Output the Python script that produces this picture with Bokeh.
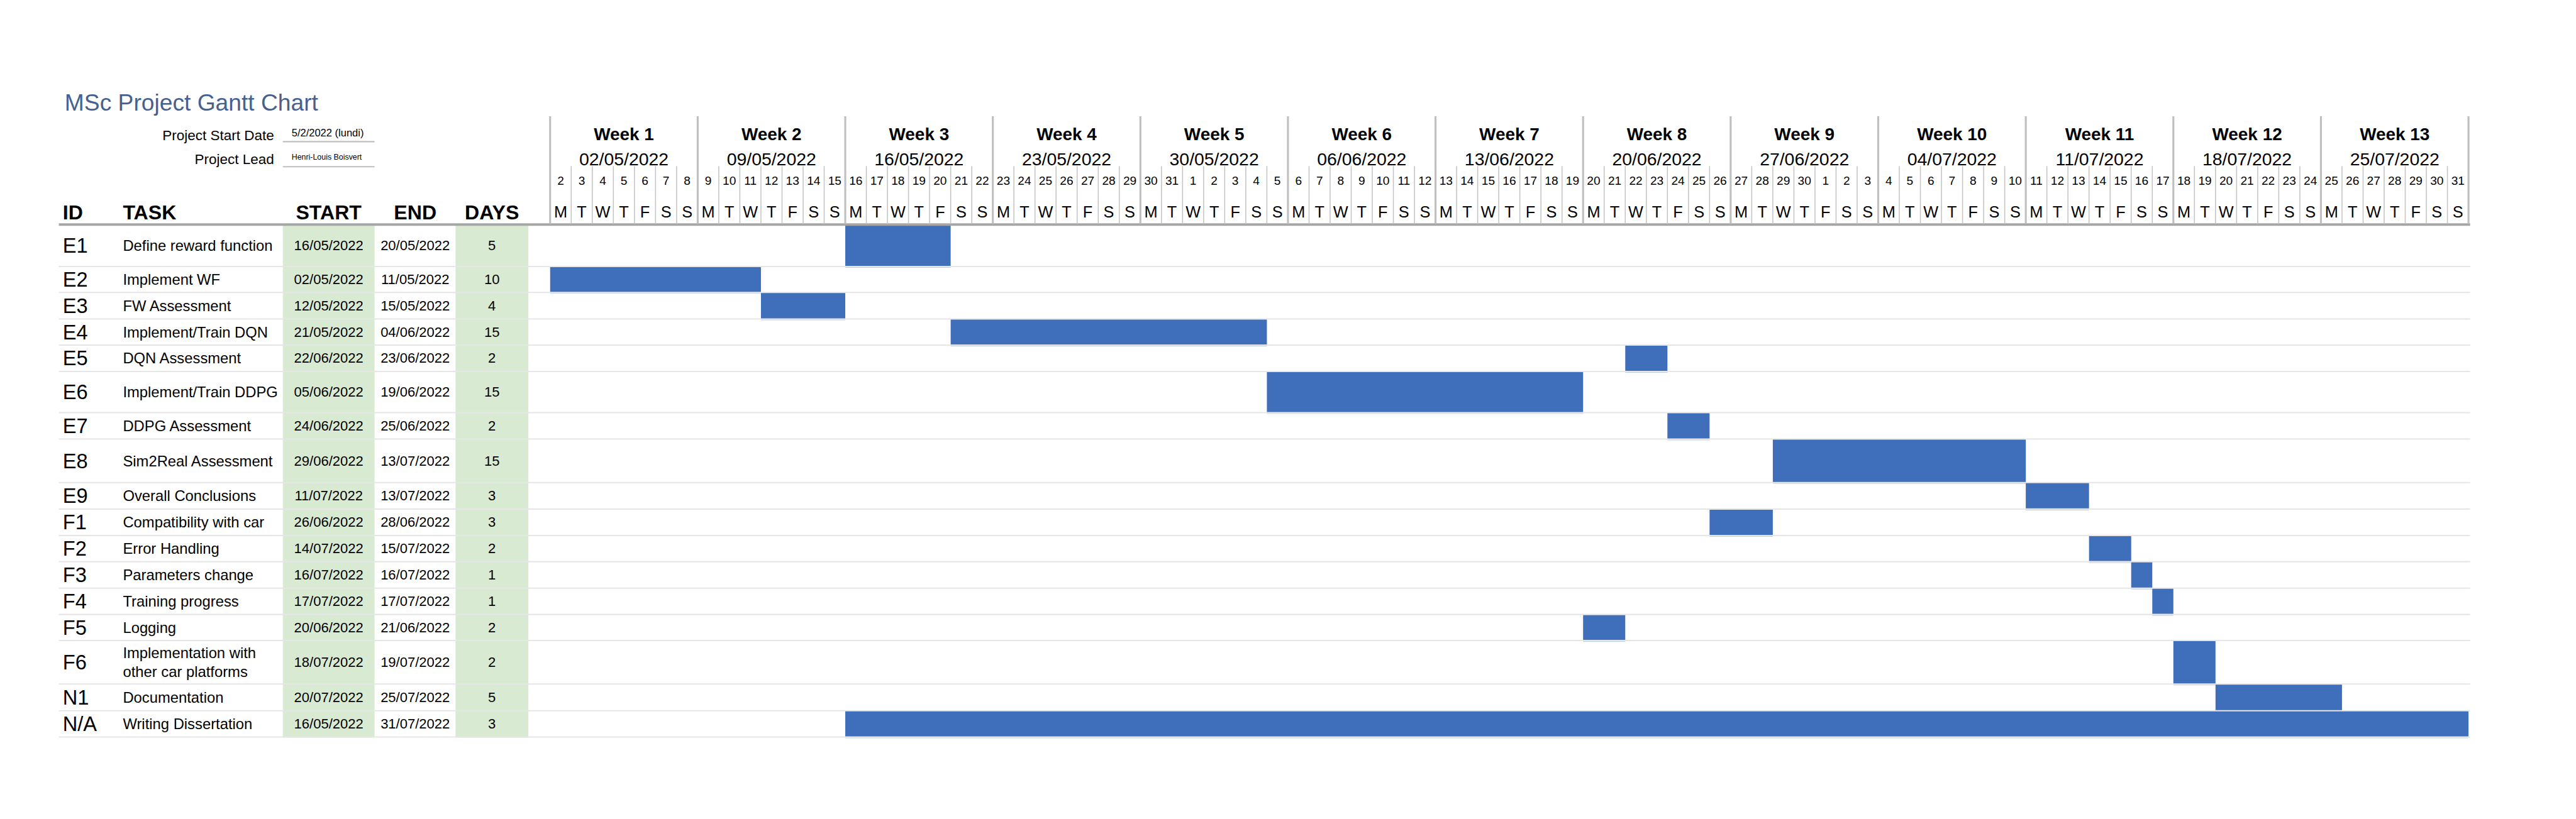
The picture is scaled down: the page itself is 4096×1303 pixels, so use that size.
import pandas as pd
from bokeh.plotting import figure
from bokeh.models import Range1d
from bokeh.core.properties import value
from bokeh.embed import file_html
from bokeh.resources import INLINE

# ---------------------------------------------------------------- data
TITLE = "MSc Project Gantt Chart"
START_DATE_LABEL = "Project Start Date"
START_DATE_VALUE = "5/2/2022 (lundi)"
LEAD_LABEL = "Project Lead"
LEAD_VALUE = "Henri-Louis Boisvert"
COLUMN_HEADERS = ["ID", "TASK", "START", "END", "DAYS"]

PROJECT_START = "02/05/2022"
PROJECT_END = "31/07/2022"

TASK_IDS = ["E1", "E2", "E3", "E4", "E5", "E6", "E7", "E8", "E9",
            "F1", "F2", "F3", "F4", "F5", "F6", "N1", "N/A"]
TASK_NAMES = ["Define reward function", "Implement WF", "FW Assessment",
              "Implement/Train DQN", "DQN Assessment", "Implement/Train DDPG",
              "DDPG Assessment", "Sim2Real Assessment", "Overall Conclusions",
              "Compatibility with car", "Error Handling", "Parameters change",
              "Training progress", "Logging",
              "Implementation with\nother car platforms",
              "Documentation", "Writing Dissertation"]
START_DATES = ["16/05/2022", "02/05/2022", "12/05/2022", "21/05/2022", "22/06/2022",
               "05/06/2022", "24/06/2022", "29/06/2022", "11/07/2022", "26/06/2022",
               "14/07/2022", "16/07/2022", "17/07/2022", "20/06/2022", "18/07/2022",
               "20/07/2022", "16/05/2022"]
END_DATES = ["20/05/2022", "11/05/2022", "15/05/2022", "04/06/2022", "23/06/2022",
             "19/06/2022", "25/06/2022", "13/07/2022", "13/07/2022", "28/06/2022",
             "15/07/2022", "16/07/2022", "17/07/2022", "21/06/2022", "19/07/2022",
             "25/07/2022", "31/07/2022"]
DURATION_DAYS = [5, 10, 4, 15, 2, 15, 2, 15, 3, 3, 2, 1, 1, 2, 2, 5, 3]
# last day covered by the drawn bar (E8's bar stops at 10/07 in the chart)
BAR_END_DATES = ["20/05/2022", "11/05/2022", "15/05/2022", "04/06/2022", "23/06/2022",
                 "19/06/2022", "25/06/2022", "10/07/2022", "13/07/2022", "28/06/2022",
                 "15/07/2022", "16/07/2022", "17/07/2022", "21/06/2022", "19/07/2022",
                 "25/07/2022", "31/07/2022"]

DAY0 = pd.to_datetime(PROJECT_START, dayfirst=True)
DAY_DATES = pd.date_range(DAY0, pd.to_datetime(PROJECT_END, dayfirst=True), freq="D")
DAY_NUMBERS = [str(d.day) for d in DAY_DATES]
DAY_LETTERS = ["MTWTFSS"[d.weekday()] for d in DAY_DATES]
WEEK_STARTS = list(DAY_DATES[::7])
WEEK_LABELS = [f"Week {i + 1}" for i in range(len(WEEK_STARTS))]
WEEK_DATE_LABELS = [d.strftime("%d/%m/%Y") for d in WEEK_STARTS]

# ---------------------------------------------------------------- layout / style
S = 0.517            # scale of the reference layout
OFF = 0              # offset of the figure inside the picture
W, H = 4080, 1287
DAY0_REF = 1691.0
DAYW_REF = (7591.0 - 1691.0) / len(DAY_DATES)
FONT = "Liberation Sans"
BAR_COLOR = "#3F6EBA"
TITLE_COLOR = "#46618F"
GREEN = "#D9EAD3"
ROW_TOP_REF = 690.0
ROW_H_REF = [129, 80, 81.5, 80.5, 81, 127, 81, 134, 81.5, 81.5, 80.5, 81.5, 81, 80, 134, 82, 81]


def dx(xref):
    """reference-layout x pixel -> day units of the chart scale"""
    return (xref - DAY0_REF) / DAYW_REF


def fs(px_ref):
    return value(f"{px_ref * S:.1f}px")


def day_index(s):
    return (pd.to_datetime(s, dayfirst=True) - DAY0).days


bounds = [ROW_TOP_REF]
for h in ROW_H_REF:
    bounds.append(bounds[-1] + h)
row_top = bounds[:-1]
row_bot = bounds[1:]
row_mid = [(a + b) / 2 for a, b in zip(row_top, row_bot)]

p = figure(width=W, height=H,
           x_range=Range1d(dx(OFF / S), dx((W + OFF) / S)),
           y_range=Range1d((H + OFF) / S, OFF / S),
           output_backend="svg", toolbar_location=None, min_border=0,
           x_axis_type=None, y_axis_type=None, outline_line_color=None,
           background_fill_color="white", border_fill_color="white")
p.grid.visible = False


def txt(x, y, texts, size, align="left", baseline="alphabetic", bold=False, color="#000000"):
    p.text(x=x, y=y, text=texts, text_font=value(FONT), text_font_size=fs(size),
           text_align=align, text_baseline=baseline,
           text_font_style="bold" if bold else "normal", text_color=color)


# green columns
table_bottom = bounds[-1] + 2
p.quad(left=[dx(869), dx(1400)], right=[dx(1151), dx(1624)],
       top=[ROW_TOP_REF, ROW_TOP_REF], bottom=[table_bottom, table_bottom],
       fill_color=GREEN, line_color=None)

# bars
bar_left = [day_index(s) for s in START_DATES]
bar_right = [day_index(e) + 1 for e in BAR_END_DATES]
p.segment(x0=bar_left, x1=bar_right, y0=[b + 2.8 for b in row_bot], y1=[b + 2.8 for b in row_bot],
          line_color="#BFCFE8", line_width=1.2)
p.quad(left=bar_left, right=bar_right, top=row_top, bottom=row_bot,
       fill_color=BAR_COLOR, line_color=None)

# row separators
sep_y = bounds[1:]
p.segment(x0=[dx(180)] * len(sep_y), x1=[dx(7596)] * len(sep_y), y0=sep_y, y1=sep_y,
          line_color="#E6E6E6", line_width=4 * S)
p.segment(x0=[dx(180)], x1=[dx(7596)], y0=[ROW_TOP_REF], y1=[ROW_TOP_REF],
          line_color="#A6A6A6", line_width=8 * S)

# header grid lines
n_days = len(DAY_DATES)
week_x = list(range(0, n_days + 1, 7))
if week_x[-1] != n_days:
    week_x.append(n_days)
day_x = [i for i in range(1, n_days) if i % 7 != 0]
p.segment(x0=day_x, x1=day_x, y0=[510] * len(day_x), y1=[688] * len(day_x),
          line_color="#C4C4C4", line_width=3 * S)
p.segment(x0=week_x, x1=week_x, y0=[357] * len(week_x), y1=[688] * len(week_x),
          line_color="#BFBFBF", line_width=6 * S)

# underlines of project info
p.segment(x0=[dx(869)] * 2, x1=[dx(1151)] * 2, y0=[435, 512], y1=[435, 512],
          line_color="#BFBFBF", line_width=4 * S)

# title and info
txt([dx(198)], [315], [TITLE], 72, color=TITLE_COLOR)
txt([dx(842)], [415], [START_DATE_LABEL], 43.5, align="right")
txt([dx(896)], [407], [START_DATE_VALUE], 32)
txt([dx(842)], [490], [LEAD_LABEL], 43.5, align="right")
txt([dx(896)], [483], [LEAD_VALUE], 24)

# column headers
hx = [dx(192), dx(377), dx(1010), dx(1276), dx(1512)]
txt(hx[:2], [653, 653], COLUMN_HEADERS[:2], 62, bold=True)
txt(hx[2:], [653] * 3, COLUMN_HEADERS[2:], 62, align="center", bold=True)

# week header
wk_center = [day_index(d.strftime("%d/%m/%Y")) + 3.5 for d in WEEK_STARTS]
txt(wk_center, [412] * len(wk_center), WEEK_LABELS, 54, align="center", bold=True)
txt(wk_center, [488] * len(wk_center), WEEK_DATE_LABELS, 55, align="center")
day_center = [i + 0.5 for i in range(n_days)]
txt(day_center, [555] * n_days, DAY_NUMBERS, 37, align="center")
txt(day_center, [650] * n_days, DAY_LETTERS, 49, align="center")

# table rows
n = len(TASK_IDS)
txt([dx(192)] * n, row_mid, TASK_IDS, 63, baseline="middle")
tx, ty, tt = [], [], []
for name, mid in zip(TASK_NAMES, row_mid):
    lines = name.split("\n")
    for k, line in enumerate(lines):
        tx.append(dx(377))
        ty.append(mid + (k - (len(lines) - 1) / 2) * 57)
        tt.append(line)
txt(tx, ty, tt, 46, baseline="middle")
txt([dx(1010)] * n, row_mid, START_DATES, 42.5, align="center", baseline="middle")
txt([dx(1276)] * n, row_mid, END_DATES, 42.5, align="center", baseline="middle")
txt([dx(1512)] * n, row_mid, [str(d) for d in DURATION_DAYS], 42.5, align="center", baseline="middle")

open("out.html", "w").write(file_html(p, INLINE))
